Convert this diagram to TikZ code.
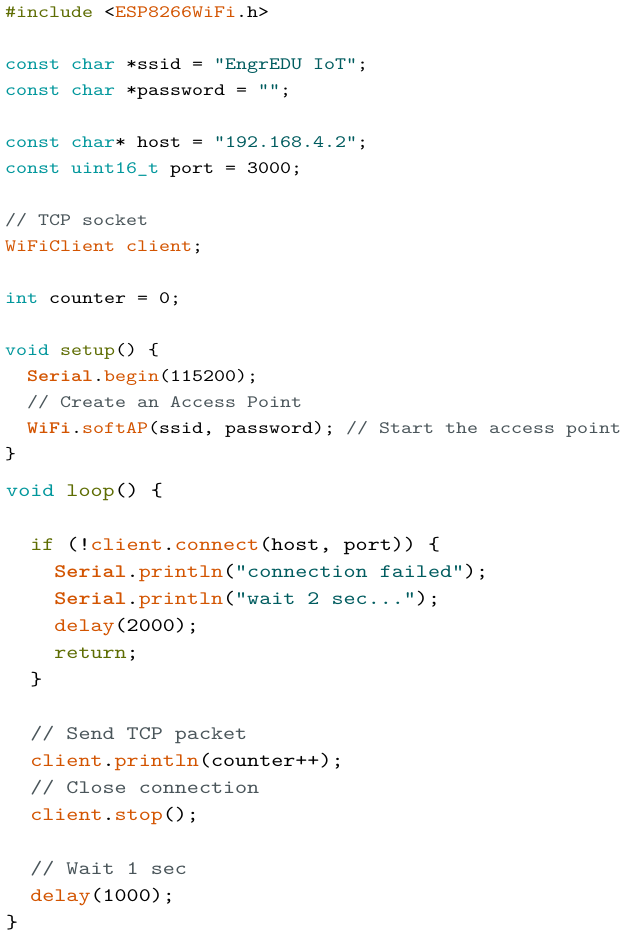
\documentclass[tikz,border=0pt]{standalone}
\usepackage{fontspec}
\newfontfamily\codefont{lmmono10-regular}[Extension=.otf, BoldFont=lmmonolt10-bold, FakeStretch=1.2]
\definecolor{kwcol}{HTML}{00979C}
\definecolor{olcol}{HTML}{5E6D03}
\definecolor{fncol}{HTML}{D35400}
\definecolor{stcol}{HTML}{005C5F}
\definecolor{cmcol}{HTML}{4A555A}
\newcommand\kwd[1]{\textcolor{kwcol}{#1}}
\newcommand\olv[1]{\textcolor{olcol}{#1}}
\newcommand\fnc[1]{\textcolor{fncol}{#1}}
\newcommand\fnb[1]{\textcolor{fncol}{\bfseries #1}}
\newcommand\strg[1]{\textcolor{stcol}{#1}}
\newcommand\cmt[1]{\textcolor{cmcol}{#1}}
\begin{document}
\begin{tikzpicture}[x=1pt,y=1pt,
  toplines/.style={anchor=base west,inner sep=0pt,font=\codefont\fontsize{17.46}{22}\selectfont},
  botlines/.style={anchor=base west,inner sep=0pt,font=\codefont\fontsize{19.13}{24}\selectfont}]
\useasboundingbox (0,0) rectangle (638,-940);
\fill[white] (0,0) rectangle (638,-940);
% top part
\node[toplines] (t0) at (5,-17) {\olv{\#include} <\fnc{ESP8266WiFi}.h>};
\node[toplines] (t2) at (5,-69) {\kwd{const} \kwd{char} *ssid = \strg{"EngrEDU IoT"};};
\node[toplines] (t3) at (5,-95) {\kwd{const} \kwd{char} *password = \strg{""};};
\node[toplines] (t5) at (5,-147) {\kwd{const} \kwd{char}* host = \strg{"192.168.4.2"};};
\node[toplines] (t6) at (5,-173) {\kwd{const} \kwd{uint16\_t} port = 3000;};
\node[toplines] (t8) at (5,-225) {\cmt{// TCP socket}};
\node[toplines] (t9) at (5,-251) {\fnc{WiFiClient} \fnc{client};};
\node[toplines] (t11) at (5,-303) {\kwd{int} counter = 0;};
\node[toplines] (t13) at (5,-355) {\kwd{void} \olv{setup}() \{};
\node[toplines] (t14) at (5,-381) {~~\fnb{Serial}.\fnc{begin}(115200);};
\node[toplines] (t15) at (5,-407) {~~\cmt{// Create an Access Point}};
\node[toplines] (t16) at (5,-433) {~~\fnb{WiFi}.\fnc{softAP}(ssid, password); \cmt{// Start the access point}};
\node[toplines] (t17) at (5,-459) {\}};
% bottom part
\node[botlines] (b0) at (6,-496) {\kwd{void} \olv{loop}() \{};
\node[botlines] (b2) at (6,-550) {~~\olv{if} (!\fnc{client}.\fnc{connect}(host, port)) \{};
\node[botlines] (b3) at (6,-577) {~~~~\fnb{Serial}.\fnc{println}(\strg{"connection failed"});};
\node[botlines] (b4) at (6,-604) {~~~~\fnb{Serial}.\fnc{println}(\strg{"wait 2 sec..."});};
\node[botlines] (b5) at (6,-631) {~~~~\fnc{delay}(2000);};
\node[botlines] (b6) at (6,-658) {~~~~\olv{return};};
\node[botlines] (b7) at (6,-685) {~~\}};
\node[botlines] (b9) at (6,-739) {~~\cmt{// Send TCP packet}};
\node[botlines] (b10) at (6,-766) {~~\fnc{client}.\fnc{println}(counter++);};
\node[botlines] (b11) at (6,-793) {~~\cmt{// Close connection}};
\node[botlines] (b12) at (6,-820) {~~\fnc{client}.\fnc{stop}();};
\node[botlines] (b14) at (6,-874) {~~\cmt{// Wait 1 sec}};
\node[botlines] (b15) at (6,-901) {~~\fnc{delay}(1000);};
\node[botlines] (b16) at (6,-928) {\}};
\end{tikzpicture}
\end{document}
